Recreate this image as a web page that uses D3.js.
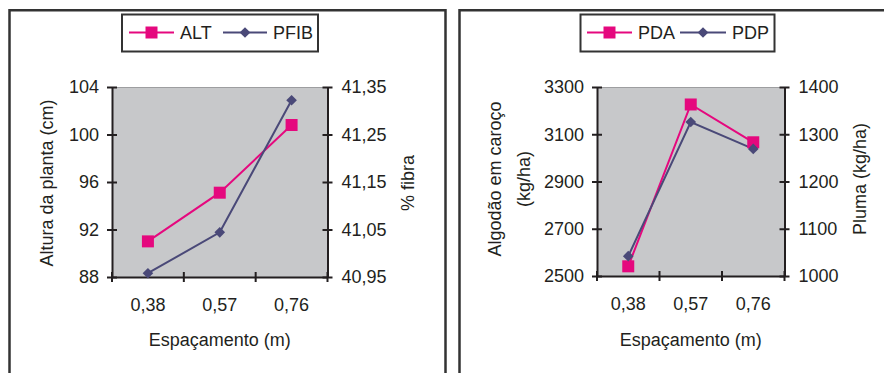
<!DOCTYPE html>
<html>
<head>
<meta charset="utf-8">
<script src="https://cdn.jsdelivr.net/npm/d3@7"></script>
<style>
  html, body { margin: 0; padding: 0; background: #fff; }
  svg { display: block; font-family: "Liberation Sans", Arial, Helvetica, sans-serif; }
</style>
</head>
<body>
<svg id="chart" width="884" height="373"></svg>
<script>
// Espaçamento entre linhas (m)
const categories = ["0,38", "0,57", "0,76"];

// Painel A: altura da planta (cm) e % de fibra
const altValues = [91.0, 95.1, 100.8];
const pfibValues = [40.958, 41.044, 41.322];
const altTicks = [88, 92, 96, 100, 104];
const pfibTicks = [40.95, 41.05, 41.15, 41.25, 41.35];

// Painel B: algodão em caroço (kg/ha) e pluma (kg/ha)
const pdaValues = [2541, 3226, 3066];
const pdpValues = [1042, 1326, 1269];
const pdaTicks = [2500, 2700, 2900, 3100, 3300];
const pdpTicks = [1000, 1100, 1200, 1300, 1400];

const PINK = "#e5087e";
const NAVY = "#4a4978";
const AXIS = "#231f20";
const PLOT_BG = "#c7c8ca";
const FONT = 18;

const svg = d3.select("#chart");

// Molduras dos painéis
svg.append("path")
  .attr("d", "M9.5,373 V10.3 H445.5 V373")
  .attr("fill", "none").attr("stroke", "#333").attr("stroke-width", 2.5);
svg.append("path")
  .attr("d", "M459.5,373 V10.3 H884")
  .attr("fill", "none").attr("stroke", "#333").attr("stroke-width", 2.5);

const fmtComma = d => d3.format(".2f")(d).replace(".", ",");

function drawPanel(cfg) {
  const g = svg.append("g");
  const x = d3.scaleBand().domain(categories).range([cfg.x0, cfg.x1]).padding(0);
  const yL = d3.scaleLinear().domain(d3.extent(cfg.leftTicks)).range([cfg.y1, cfg.y0]);
  const yR = d3.scaleLinear().domain(d3.extent(cfg.rightTicks)).range([cfg.y1, cfg.y0]);
  const cx = c => x(c) + x.bandwidth() / 2;

  // Área de plotagem
  g.append("rect")
    .attr("x", cfg.x0).attr("y", cfg.y0)
    .attr("width", cfg.x1 - cfg.x0).attr("height", cfg.y1 - cfg.y0)
    .attr("fill", PLOT_BG);
  g.append("line")
    .attr("x1", cfg.x0).attr("x2", cfg.x1).attr("y1", cfg.y0 + 0.5).attr("y2", cfg.y0 + 0.5)
    .attr("stroke", "#9d9ea0").attr("stroke-width", 1);

  // Eixo esquerdo
  const axL = g.append("g").attr("transform", `translate(${cfg.x0},0)`)
    .call(d3.axisLeft(yL).tickValues(cfg.leftTicks).tickFormat(cfg.leftFmt)
      .tickSizeInner(6).tickSizeOuter(0).tickPadding(7));
  axL.selectAll(".tick line").attr("x1", -5).attr("x2", 5);

  // Eixo direito
  const axR = g.append("g").attr("transform", `translate(${cfg.x1},0)`)
    .call(d3.axisRight(yR).tickValues(cfg.rightTicks).tickFormat(cfg.rightFmt)
      .tickSizeInner(6).tickSizeOuter(0).tickPadding(8));
  axR.selectAll(".tick line").attr("x1", -5).attr("x2", 5);

  // Eixo inferior: rótulos no centro das categorias
  const axB = g.append("g").attr("transform", `translate(0,${cfg.y1})`)
    .call(d3.axisBottom(x).tickSizeInner(6).tickSizeOuter(0).tickPadding(15));
  axB.selectAll(".tick line").remove();
  // Marcas de divisão entre categorias
  const bounds = categories.map(c => x(c)).concat([x.range()[1]]);
  axB.selectAll(".divider").data(bounds).join("line")
    .attr("class", "divider")
    .attr("x1", d => d).attr("x2", d => d)
    .attr("y1", -5).attr("y2", 5)
    .attr("stroke", AXIS);

  [axL, axR, axB].forEach(a => {
    a.selectAll("path.domain").attr("stroke", AXIS).attr("stroke-width", 2);
    a.selectAll("line").attr("stroke", AXIS).attr("stroke-width", 2);
    a.selectAll("text").attr("font-size", FONT).attr("fill", "#231f20")
      .attr("font-family", "Liberation Sans, Arial, sans-serif");
  });

  // Séries
  const lineL = d3.line().x((d, i) => cx(categories[i])).y(d => yL(d));
  const lineR = d3.line().x((d, i) => cx(categories[i])).y(d => yR(d));

  g.append("path").datum(cfg.leftValues).attr("d", lineL)
    .attr("fill", "none").attr("stroke", PINK).attr("stroke-width", 2);
  g.append("path").datum(cfg.rightValues).attr("d", lineR)
    .attr("fill", "none").attr("stroke", NAVY).attr("stroke-width", 2);

  const square = d3.symbol().type(d3.symbolSquare).size(144);
  const diamond = d3.symbol().type(d3.symbolDiamond2).size(72);

  g.selectAll(".sq").data(cfg.leftValues).join("path")
    .attr("class", "sq")
    .attr("transform", (d, i) => `translate(${cx(categories[i])},${yL(d)})`)
    .attr("d", square).attr("fill", PINK);
  g.selectAll(".dm").data(cfg.rightValues).join("path")
    .attr("class", "dm")
    .attr("transform", (d, i) => `translate(${cx(categories[i])},${yR(d)})`)
    .attr("d", diamond).attr("fill", NAVY);

  // Títulos dos eixos
  const txt = (sel) => sel.attr("font-size", FONT).attr("fill", "#231f20").attr("text-anchor", "middle");
  g.append("text").call(txt)
    .attr("x", (cfg.x0 + cfg.x1) / 2).attr("y", 346)
    .text("Espaçamento (m)");

  cfg.leftTitle.forEach((t, i) => {
    g.append("text").call(txt)
      .attr("transform", `translate(${cfg.leftTitleX[i]},${cfg.titleY}) rotate(-90)`)
      .attr("dy", "0.35em")
      .text(t);
  });
  g.append("text").call(txt)
    .attr("transform", `translate(${cfg.rightTitleX},${cfg.titleY}) rotate(-90)`)
    .attr("dy", "0.35em")
    .text(cfg.rightTitle);

  // Legenda
  const lg = g.append("g");
  lg.append("rect")
    .attr("x", cfg.legend.x).attr("y", 14.5)
    .attr("width", cfg.legend.w).attr("height", 37)
    .attr("fill", "#fff").attr("stroke", "#333").attr("stroke-width", 2);
  const ly = 32.5;
  const items = [
    { name: cfg.names[0], color: PINK, sym: square, at: cfg.legend.items[0] },
    { name: cfg.names[1], color: NAVY, sym: diamond, at: cfg.legend.items[1] }
  ];
  items.forEach(it => {
    lg.append("line")
      .attr("x1", it.at[0]).attr("x2", it.at[1]).attr("y1", ly).attr("y2", ly)
      .attr("stroke", it.color).attr("stroke-width", 2);
    lg.append("path")
      .attr("transform", `translate(${(it.at[0] + it.at[1]) / 2},${ly})`)
      .attr("d", it.sym).attr("fill", it.color);
    lg.append("text")
      .attr("x", it.at[1] + 6).attr("y", ly).attr("dy", "0.36em")
      .attr("font-size", FONT).attr("fill", "#231f20")
      .text(it.name);
  });
}

drawPanel({
  x0: 112, x1: 327.5, y0: 87, y1: 277,
  leftTicks: altTicks, rightTicks: pfibTicks,
  leftValues: altValues, rightValues: pfibValues,
  leftFmt: d3.format("d"), rightFmt: fmtComma,
  leftTitle: ["Altura da planta (cm)"], leftTitleX: [47],
  rightTitle: "% fibra", rightTitleX: 408,
  titleY: 183,
  names: ["ALT", "PFIB"],
  legend: { x: 122, w: 196, items: [[129, 174], [223, 267]] }
});

drawPanel({
  x0: 597, x1: 784.5, y0: 87, y1: 276,
  leftTicks: pdaTicks, rightTicks: pdpTicks,
  leftValues: pdaValues, rightValues: pdpValues,
  leftFmt: d3.format("d"), rightFmt: d3.format("d"),
  leftTitle: ["Algodão em caroço", "(kg/ha)"], leftTitleX: [495, 524],
  rightTitle: "Pluma (kg/ha)", rightTitleX: 860,
  titleY: 179,
  names: ["PDA", "PDP"],
  legend: { x: 580.5, w: 194, items: [[587, 632], [680, 726]] }
});
</script>
</body>
</html>
